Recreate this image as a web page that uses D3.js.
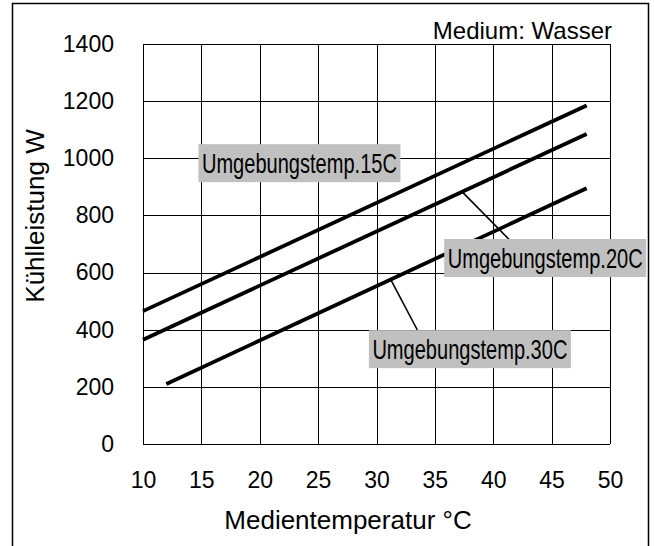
<!DOCTYPE html>
<html>
<head>
<meta charset="utf-8">
<script src="https://cdn.jsdelivr.net/npm/d3@7"></script>
<style>
  html, body { margin: 0; padding: 0; background: #fff; }
  svg { display: block; }
  text { font-family: "Liberation Sans", Arial, sans-serif; fill: #000; }
</style>
</head>
<body>
<svg id="chart" width="654" height="546"></svg>
<script>
// ---- data ----
const xTicks = [10, 15, 20, 25, 30, 35, 40, 45, 50];
const yTicks = [0, 200, 400, 600, 800, 1000, 1200, 1400];

const seriesNames = ["Umgebungstemp.15C", "Umgebungstemp.20C", "Umgebungstemp.30C"];
const temps15 = [10, 48];
const power15 = [465, 1185];
const temps20 = [10, 48];
const power20 = [365, 1085];
const temps30 = [12, 48];
const power30 = [210, 895];

// label anchors (data coords, box centre)
const labelX = [23.4, 44.45, 38.0];
const labelY = [983, 651, 332];
// leader lines [from on curve, to label]
const leaderFromX = [null, 37.3, 31.2];
const leaderFromY = [null, 884, 577];
const leaderToX = [null, 41.4, 33.5];
const leaderToY = [null, 714, 399];

const xTitle = "Medientemperatur °C";
const yTitle = "Kühlleistung W";
const mediumText = "Medium: Wasser";

// ---- layout ----
const svg = d3.select("#chart");
const pL = 143, pR = 610, pT = 44, pB = 444;
const x = d3.scaleLinear().domain([10, 50]).range([pL, pR]);
const y = d3.scaleLinear().domain([0, 1400]).range([pB, pT]);

// outer frame
svg.append("path")
  .attr("d", "M12.5,546 L12.5,3.5 L648.5,3.5 L648.5,546")
  .attr("fill", "none").attr("stroke", "#000").attr("stroke-width", 1.5);

// grid
const g = svg.append("g");
g.selectAll("line.v").data(xTicks).join("line")
  .attr("x1", d => Math.round(x(d)) + 0.5).attr("x2", d => Math.round(x(d)) + 0.5)
  .attr("y1", pT).attr("y2", pB)
  .attr("stroke", "#000").attr("stroke-width", 1);
g.selectAll("line.h").data(yTicks).join("line")
  .attr("y1", d => Math.round(y(d)) + 0.5).attr("y2", d => Math.round(y(d)) + 0.5)
  .attr("x1", pL).attr("x2", pR)
  .attr("stroke", "#000").attr("stroke-width", 1);

// axes (labels only, via d3 axes)
const xAxis = svg.append("g").attr("transform", `translate(0,${pB})`)
  .call(d3.axisBottom(x).tickValues(xTicks).tickFormat(d3.format("d")).tickSize(0).tickPadding(28));
xAxis.select(".domain").remove();
xAxis.selectAll("text").style("font-size", "23px").attr("font-family", "Liberation Sans, Arial, sans-serif");

const yAxis = svg.append("g").attr("transform", `translate(${pL},0)`)
  .call(d3.axisLeft(y).tickValues(yTicks).tickFormat(d3.format("d")).tickSize(0).tickPadding(29));
yAxis.select(".domain").remove();
yAxis.selectAll("text").style("font-size", "23px").attr("font-family", "Liberation Sans, Arial, sans-serif");

// titles
svg.append("text").attr("x", 348).attr("y", 529).attr("text-anchor", "middle")
  .style("font-size", "26px").text(xTitle);
svg.append("text").attr("transform", "translate(44,216) rotate(-90)")
  .attr("text-anchor", "middle").style("font-size", "26px").text(yTitle);
svg.append("text").attr("x", 612).attr("y", 39).attr("text-anchor", "end")
  .style("font-size", "24px").text(mediumText);

// series lines
const series = [
  temps15.map((t, i) => [t, power15[i]]),
  temps20.map((t, i) => [t, power20[i]]),
  temps30.map((t, i) => [t, power30[i]])
];
const line = d3.line().x(d => x(d[0])).y(d => y(d[1]));
svg.selectAll("path.series").data(series).join("path")
  .attr("class", "series")
  .attr("d", line).attr("fill", "none")
  .attr("stroke", "#000").attr("stroke-width", 3.8).attr("stroke-linecap", "butt");

// leaders
seriesNames.forEach((n, i) => {
  if (leaderFromX[i] == null) return;
  svg.append("line")
    .attr("x1", x(leaderFromX[i])).attr("y1", y(leaderFromY[i]))
    .attr("x2", x(leaderToX[i])).attr("y2", y(leaderToY[i]))
    .attr("stroke", "#000").attr("stroke-width", 1.6);
});

// labels
const boxW = 202, boxH = 38, textW = 195, fs = 28;
seriesNames.forEach((n, i) => {
  const cx = x(labelX[i]), cy = y(labelY[i]);
  svg.append("rect").attr("x", cx - boxW / 2).attr("y", cy - boxH / 2)
    .attr("width", boxW).attr("height", boxH).attr("fill", "#c0c0c0");
  svg.append("text").attr("x", cx - textW / 2).attr("y", cy + fs * 0.36)
    .attr("textLength", textW).attr("lengthAdjust", "spacingAndGlyphs")
    .style("font-size", fs + "px").text(n);
});
</script>
</body>
</html>
